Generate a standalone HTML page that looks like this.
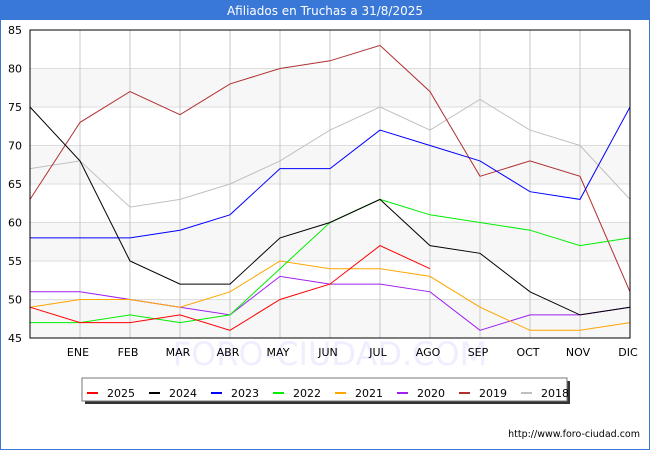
<!DOCTYPE html>
<html><head><meta charset="utf-8"><style>
body{margin:0;background:#fff;font-family:"DejaVu Sans","Liberation Sans",sans-serif}
#wrap{position:relative;width:650px;height:450px;background:#fff}
svg text{font-family:"DejaVu Sans","Liberation Sans",sans-serif}
</style></head><body>
<div id="wrap">
<svg id="svg" width="650" height="450" xmlns="http://www.w3.org/2000/svg">
<rect x="0" y="0" width="650" height="20" fill="#3a78d8"/>
<rect x="0" y="0" width="650" height="450" fill="none" stroke="#3a78d8" stroke-width="2"/>
<text x="325" y="15" fill="#fff" font-size="12" text-anchor="middle">Afiliados en Truchas a 31/8/2025</text>
<g id="bands"></g><g id="grid"></g>
<text x="330" y="365" fill="#eef" font-size="32" text-anchor="middle">FORO-CIUDAD.COM</text>
<g id="lines"></g>
<rect x="30" y="30" width="600" height="308" fill="none" stroke="#000" stroke-width="1"/>
<g id="ticks"></g>
<rect x="85" y="381" width="485" height="23" fill="#333"/>
<rect x="82" y="378" width="485" height="23" fill="#fff" stroke="#777"/>
<g id="legend"></g>
<text x="640" y="437" font-size="9.5" text-anchor="end" fill="#000">http://www.foro-ciudad.com</text>
</svg></div>
<script>
const months=["","ENE","FEB","MAR","ABR","MAY","JUN","JUL","AGO","SEP","OCT","NOV","DIC"];
const yTicks=[45,50,55,60,65,70,75,80,85];
const seriesNames=["2025","2024","2023","2022","2021","2020","2019","2018"];
const seriesColors=["#ff0000","#000000","#0000ff","#00ee00","#ffa500","#a020f0","#b03030","#c0c0c0"];
const s2025=[49,47,47,48,46,50,52,57,54];
const s2024=[75,68,55,52,52,58,60,63,57,56,51,48,49];
const s2023=[58,58,58,59,61,67,67,72,70,68,64,63,75];
const s2022=[47,47,48,47,48,54,60,63,61,60,59,57,58];
const s2021=[49,50,50,49,51,55,54,54,53,49,46,46,47];
const s2020=[51,51,50,49,48,53,52,52,51,46,48,48,49];
const s2019=[63,73,77,74,78,80,81,83,77,66,68,66,51];
const s2018=[67,68,62,63,65,68,72,75,72,76,72,70,63];
const allSeries=[s2025,s2024,s2023,s2022,s2021,s2020,s2019,s2018];
const NS="http://www.w3.org/2000/svg";
const X=i=>30+i*50, Y=v=>338-(v-45)*308/40;
function mk(t,a,p){const e=document.createElementNS(NS,t);for(const k in a)e.setAttribute(k,a[k]);document.getElementById(p).appendChild(e);return e;}
for(let i=0;i<yTicks.length-1;i++){if(i%2===0){const r=mk('rect',{x:30,y:Y(yTicks[i+1]),width:600,height:Y(yTicks[i])-Y(yTicks[i+1]),fill:'#f7f7f7'},'bands');

}}
yTicks.forEach(v=>{const l=mk('line',{x1:30,x2:630,y1:Y(v),y2:Y(v),stroke:'#ddd'},'grid');


const t=mk('text',{x:22,y:Y(v)+4,'font-size':11,'text-anchor':'end'},'ticks');t.textContent=v;

});
months.forEach((m,i)=>{if(i>0){const l=mk('line',{x1:X(i),x2:X(i),y1:30,y2:338,stroke:'#c8c8c8'},'grid');

}
const t=mk('text',{x:X(i)-2,y:356,'font-size':11,'text-anchor':'middle'},'ticks');t.textContent=m;

});
for(let s=allSeries.length-1;s>=0;s--){const pts=allSeries[s].map((v,i)=>X(i)+','+Y(v)).join(' ');
const p=mk('polyline',{points:pts,fill:'none',stroke:seriesColors[s],'stroke-width':1},'lines');

}
seriesNames.forEach((n,i)=>{const x=87+i*62;
const l=mk('line',{x1:x,x2:x+11,y1:393,y2:393,stroke:seriesColors[i],'stroke-width':2},'legend');


const t=mk('text',{x:x+20,y:397,'font-size':11},'legend');t.textContent=n;

});
</script>
</body></html>
